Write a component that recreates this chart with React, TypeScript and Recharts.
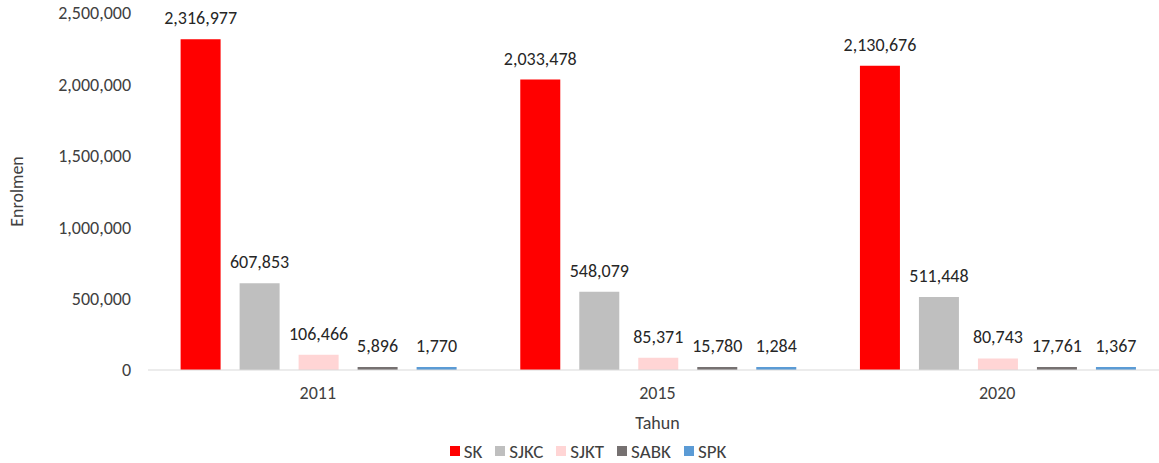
import React from 'react';
import { BarChart, Bar, XAxis, YAxis, Legend, LabelList } from 'recharts';

const years = ['2011', '2015', '2020'];
const sk = [2316977, 2033478, 2130676];
const sjkc = [607853, 548079, 511448];
const sjkt = [106466, 85371, 80743];
const sabk = [5896, 15780, 17761];
const spk = [1770, 1284, 1367];
const yTicks = [0, 500000, 1000000, 1500000, 2000000, 2500000];

const series = [
  { key: 'SK', color: '#ff0000' },
  { key: 'SJKC', color: '#bfbfbf' },
  { key: 'SJKT', color: '#ffd5d5' },
  { key: 'SABK', color: '#767171' },
  { key: 'SPK', color: '#5b9bd5' },
];

const data = years.map((y, i) => ({
  year: y,
  SK: sk[i],
  SJKC: sjkc[i],
  SJKT: sjkt[i],
  SABK: sabk[i],
  SPK: spk[i],
}));

const FONT = 'Carlito, Calibri, Lato, sans-serif';
const fmt = (v: number) => Number(v).toLocaleString('en-US');

const renderLegend = () => (
  <div style={{ height: 19, fontFamily: FONT, fontSize: 19, color: '#404040', marginLeft: 22 }}>
    <div style={{ height: 14, display: 'flex', justifyContent: 'center', alignItems: 'center' }}>
      {series.map((s) => (
        <div key={s.key} style={{ display: 'flex', alignItems: 'center', marginRight: 13 }}>
          <div style={{ width: 10, height: 10, background: s.color, marginRight: 4 }} />
          <span>{s.key}</span>
        </div>
      ))}
    </div>
  </div>
);

export default function App() {
  return (
    <div style={{ position: 'absolute', left: 0, top: 0, width: 1159, height: 463, background: '#fff', overflow: 'hidden' }}>
      <BarChart
        width={1159}
        height={463}
        data={data}
        margin={{ top: 13, right: -8, bottom: 0, left: 0 }}
        barCategoryGap="9.6%"
        barGap={19}
        style={{ fontFamily: FONT }}
      >
        <XAxis
          dataKey="year"
          axisLine={{ stroke: '#d9d9d9' }}
          tickLine={false}
          tickSize={0}
          tickMargin={16}
          height={74}
          tick={{ fill: '#404040', fontSize: 18, fontFamily: FONT }}
          label={{ value: 'Tahun', position: 'insideBottom', offset: 15, fill: '#404040', fontSize: 18, fontFamily: FONT }}
        />
        <YAxis
          domain={[0, 2500000]}
          ticks={yTicks}
          tickFormatter={fmt}
          axisLine={false}
          tickLine={false}
          tickSize={0}
          tickMargin={17}
          width={148}
          tick={{ fill: '#404040', fontSize: 18, fontFamily: FONT }}
          label={{
            value: 'Enrolmen',
            angle: -90,
            position: 'insideLeft',
            offset: 17,
            fill: '#404040',
            fontSize: 18,
            fontFamily: FONT,
            style: { textAnchor: 'middle' },
          }}
        />
        <Legend verticalAlign="bottom" content={renderLegend} />
        {series.map((s) => (
          <Bar key={s.key} dataKey={s.key} fill={s.color} minPointSize={3} isAnimationActive={false}>
            <LabelList
              dataKey={s.key}
              position="top"
              offset={15}
              formatter={fmt}
              style={{ fill: '#262626', fontSize: 18, fontFamily: FONT }}
            />
          </Bar>
        ))}
      </BarChart>
    </div>
  );
}
